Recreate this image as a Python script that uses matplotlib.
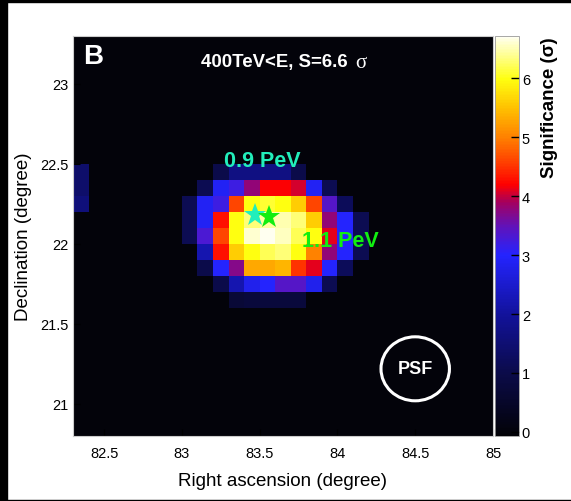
import numpy as np
import matplotlib
matplotlib.use('Agg')
import matplotlib.pyplot as plt
from matplotlib.colors import LinearSegmentedColormap, Normalize
from matplotlib.patches import Ellipse, Rectangle
from matplotlib.ticker import FormatStrFormatter

plt.rcParams['font.family'] = ['Liberation Sans', 'DejaVu Sans']

# map grid (0.1 deg bins)
ra_lo, ra_hi = 82.3, 85.0
dec_lo, dec_hi = 20.8, 23.3

# significance block, rows from Dec 22.5 (top) down to 21.6, columns RA 83.0 -> 84.2
block_ra0 = 83.0
block_dec_top = 22.5
sig_block = [
    [0.0, 0.0, 1.0, 1.7, 1.7, 1.7, 1.7, 1.0, 0.0, 0.0, 0.0, 0.0],
    [0.0, 1.1, 2.9, 3.2, 3.8, 4.2, 4.2, 4.05, 2.9, 1.1, 0.0, 0.0],
    [1.1, 2.9, 3.2, 4.6, 6.0, 6.1, 6.0, 5.6, 4.6, 3.4, 1.2, 0.0],
    [1.1, 2.9, 4.3, 6.0, 6.3, 6.45, 6.5, 6.3, 5.6, 3.8, 3.0, 1.1],
    [1.1, 3.3, 4.6, 6.0, 6.6, 6.7, 6.55, 6.2, 6.0, 4.1, 3.0, 1.1],
    [0.0, 2.2, 4.3, 5.6, 6.0, 6.2, 6.3, 6.0, 5.0, 3.8, 3.0, 1.1],
    [0.0, 1.0, 3.0, 3.7, 5.3, 5.3, 5.4, 4.5, 4.1, 3.0, 1.2, 0.0],
    [0.0, 0.0, 1.0, 2.2, 2.8, 3.0, 3.4, 3.4, 2.8, 1.1, 0.0, 0.0],
    [0.0, 0.0, 0.0, 0.7, 0.8, 0.8, 0.8, 0.8, 0.0, 0.0, 0.0, 0.0],
]
# small patch at the left edge (RA 82.3-82.4), Dec 22.5 -> 22.2
edge_ra0 = 82.3
edge_patch = [1.4, 1.4, 1.6]

src_ra = [83.467, 83.56]
src_dec = [22.18, 22.17]
src_labels = ['0.9 PeV', '1.1 PeV']
src_colors = ['#22eebb', '#11ee11']
label_ra = [83.52, 84.02]
label_dec = [22.52, 22.02]

psf_ra, psf_dec = 84.5, 21.22

vmin, vmax = -0.07, 6.72
cstops = [(-0.07, '#020207'), (0.0, '#03030b'), (1.0, '#0b0b4a'), (2.0, '#12129c'),
          (3.0, '#2424ff'), (3.5, '#6212b8'), (3.9, '#a4005e'), (4.2, '#ff0000'),
          (4.6, '#ff4200'), (5.0, '#ff8000'), (5.5, '#ffc000'), (6.0, '#ffff10'),
          (6.4, '#ffff90'), (6.72, '#fffff0')]
cmap = LinearSegmentedColormap.from_list(
    'sig', [((v - vmin) / (vmax - vmin), c) for v, c in cstops])

ra_edges = np.round(np.arange(ra_lo, ra_hi + 0.05, 0.1), 2)
dec_edges = np.round(np.arange(dec_lo, dec_hi + 0.05, 0.1), 2)
sig = np.zeros((len(dec_edges) - 1, len(ra_edges) - 1))
c0 = int(round((block_ra0 - ra_lo) / 0.1))
rtop = int(round((block_dec_top - dec_lo) / 0.1)) - 1
for i, row in enumerate(sig_block):
    sig[rtop - i, c0:c0 + len(row)] = row
ce = int(round((edge_ra0 - ra_lo) / 0.1))
for i, v in enumerate(edge_patch):
    sig[rtop - i, ce] = v

fig = plt.figure(figsize=(5.71, 5.02), dpi=100)
ax = fig.add_axes([73 / 571, 65 / 502, 420 / 571, 400 / 502])
norm = Normalize(vmin=vmin, vmax=vmax)
mesh = ax.pcolormesh(ra_edges, dec_edges, sig, cmap=cmap, norm=norm)
ax.set_xlim(ra_lo, ra_hi)
ax.set_ylim(dec_lo, dec_hi)

for r, d, col in zip(src_ra, src_dec, src_colors):
    ax.plot(r, d, marker='*', color=col, markersize=17, markeredgewidth=0)
for r, d, lab, col in zip(label_ra, label_dec, src_labels, src_colors):
    ax.text(r, d, lab, color=col, fontsize=15.5, fontweight='bold',
            ha='center', va='center')

ax.add_patch(Ellipse((psf_ra, psf_dec), 0.44, 0.40, fill=False, ec='white', lw=2.2))
ax.text(psf_ra, psf_dec, 'PSF', color='white', fontsize=13, fontweight='bold',
        ha='center', va='center')

ax.text(0.024, 0.982, 'B', transform=ax.transAxes, color='white', fontsize=20,
        fontweight='bold', ha='left', va='top')
ax.text(0.48, 0.935, '400TeV<E, S=6.6', transform=ax.transAxes, color='white',
        fontsize=13.4, fontweight='bold', ha='center', va='center')
ax.text(0.685, 0.935, 'σ', transform=ax.transAxes, color='white', fontsize=15,
        family=['Liberation Serif', 'DejaVu Serif'], ha='center', va='center')

ax.set_xticks([82.5, 83, 83.5, 84, 84.5, 85])
ax.set_yticks([21, 21.5, 22, 22.5, 23])
ax.xaxis.set_major_formatter(FormatStrFormatter('%g'))
ax.yaxis.set_major_formatter(FormatStrFormatter('%g'))
ax.tick_params(direction='in', length=5, color='black', labelsize=10.5, pad=3)
ax.tick_params(axis='x', pad=7)
for s in ax.spines.values():
    s.set_color('#cccccc')
    s.set_linewidth(0.8)
ax.set_xlabel('Right ascension (degree)', fontsize=13.5, labelpad=9)
ax.set_ylabel('Declination (degree)', fontsize=13.5, labelpad=6)

cax = fig.add_axes([495 / 571, 65 / 502, 24 / 571, 400 / 502])
cb = fig.colorbar(mesh, cax=cax)
cb.set_ticks([0, 1, 2, 3, 4, 5, 6])
cb.outline.set_edgecolor('#999999')
cb.outline.set_linewidth(0.6)
cax.tick_params(direction='in', length=6, color='black', width=1, labelsize=10.5, pad=2)
fig.text(549 / 571, 1 - 37 / 502, 'Significance (σ)', rotation=90, fontsize=13.5,
         fontweight='bold', ha='center', va='top')

# black frame bits of the screenshot
fig.patches.append(Rectangle((0, 1 - 3 / 502), 1, 3 / 502, transform=fig.transFigure,
                             color='black', zorder=10))
fig.patches.append(Rectangle((0, 0), 7 / 571, 1, transform=fig.transFigure,
                             color='black', zorder=10))
fig.patches.append(Rectangle((0, 0), 1, 1.5 / 502, transform=fig.transFigure,
                             color='black', zorder=10))

fig.savefig('out.png', dpi=100)
